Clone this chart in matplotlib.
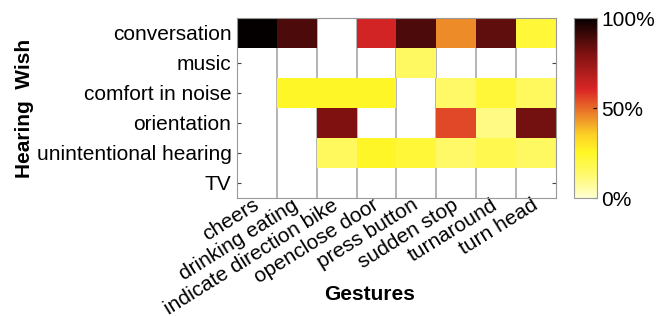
import numpy as np
import matplotlib.pyplot as plt
from matplotlib.colors import LinearSegmentedColormap

plt.rcParams['font.family'] = ['Liberation Sans', 'DejaVu Sans']

gestures = ['cheers', 'drinking eating', 'indicate direction bike', 'openclose door',
            'press button', 'sudden stop', 'turnaround', 'turn head']
wishes = ['conversation', 'music', 'comfort in noise', 'orientation',
          'unintentional hearing', 'TV']

# percent of participants per wish / gesture (0 = empty cell)
conversation = [100, 88, 0, 62, 88, 45, 85, 22]
music = [0, 0, 0, 0, 15, 0, 0, 0]
comfort = [0, 25, 25, 25, 0, 14, 22, 16]
orientation = [0, 0, 80, 0, 0, 55, 10, 82]
unintentional = [0, 0, 16, 25, 22, 14, 18, 15]
tv = [0, 0, 0, 0, 0, 0, 0, 0]

data = np.array([conversation, music, comfort, orientation, unintentional, tv], dtype=float)
masked = np.ma.masked_where(data == 0, data)

cmap = LinearSegmentedColormap.from_list('hotrev', [
    (0.0, (1.0, 1.0, 0.82)),
    (0.12, (1.0, 0.98, 0.45)),
    (0.25, (1.0, 0.97, 0.15)),
    (0.35, (0.99, 0.82, 0.15)),
    (0.45, (0.93, 0.55, 0.16)),
    (0.6, (0.86, 0.15, 0.15)),
    (0.8, (0.5, 0.07, 0.07)),
    (1.0, (0.02, 0.0, 0.0)),
])
cmap.set_bad((1, 1, 1, 0))

fig = plt.figure(figsize=(6.7, 3.16), dpi=100)
ax = fig.add_axes([237 / 670, 1 - 198 / 316, 319 / 670, 180 / 316])
cax = fig.add_axes([574 / 670, 1 - 198 / 316, 23 / 670, 180 / 316])

im = ax.imshow(masked, cmap=cmap, vmin=0, vmax=100, aspect='auto',
               interpolation='nearest', zorder=2)
ax.set_xlim(-0.5, len(gestures) - 0.5)
ax.set_ylim(len(wishes) - 0.5, -0.5)

for x in np.arange(0.5, len(gestures) - 0.5):
    ax.axvline(x, color='#a8a8a8', lw=1.2, zorder=1)

ax.set_xticks(range(len(gestures)))
ax.set_xticklabels(gestures, rotation=32, ha='right', va='center',
                   rotation_mode='anchor', fontsize=15)
ax.set_yticks(range(len(wishes)))
ax.set_yticklabels(wishes, fontsize=15)
ax.tick_params(axis='x', length=0, pad=4)
ax.tick_params(axis='y', length=3, color='#444444', right=True, direction='in', pad=4)
for s in ax.spines.values():
    s.set_color('#999999')
ax.set_xlabel('Gestures', fontsize=15, fontweight='bold')
ax.xaxis.set_label_coords((370 - 237) / 319, -(285 - 198) / 180)
ax.set_ylabel('Hearing  Wish', fontsize=15, fontweight='bold')
ax.yaxis.set_label_coords(-(237 - 34) / 319, 0.5)

cb = fig.colorbar(im, cax=cax, ticks=[0, 50, 100])
cb.ax.set_yticklabels(['0%', '50%', '100%'], fontsize=15)
cb.ax.tick_params(length=3, direction='in', pad=3)
cb.outline.set_edgecolor('#999999')

fig.savefig('out.png', dpi=100)
